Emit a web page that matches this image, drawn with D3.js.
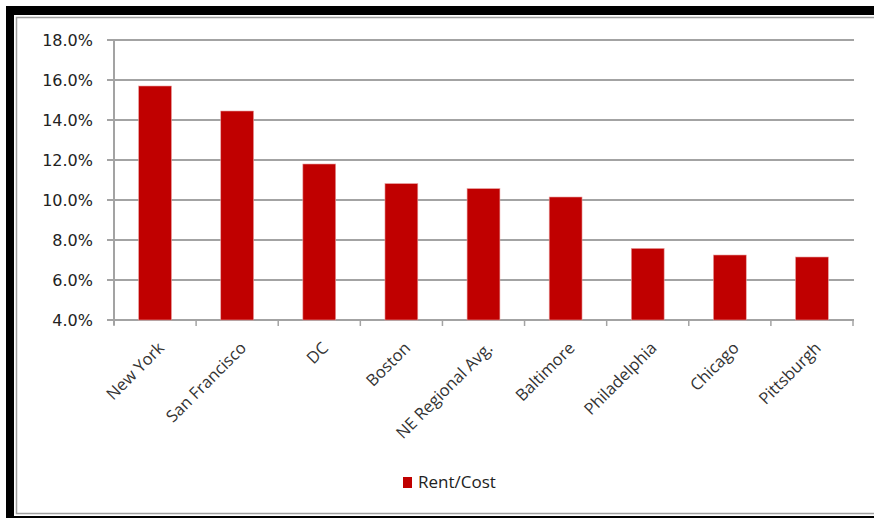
<!DOCTYPE html>
<html><head><meta charset="utf-8">
<script src="https://cdn.jsdelivr.net/npm/d3@7"></script>
<style>body{margin:0;background:#fff}svg{display:block}</style>
</head><body>
<script>
const categories = ["New York","San Francisco","DC","Boston","NE Regional Avg.","Baltimore","Philadelphia","Chicago","Pittsburgh"];
const rentCost = [15.7,14.45,11.8,10.82,10.57,10.15,7.58,7.25,7.15];
const yTicks = [4,6,8,10,12,14,16,18];
const seriesName = "Rent/Cost";

(function(){
const W=874,H=518;
const svg=d3.select("body").append("svg").attr("width",W).attr("height",H);
// frame
svg.append("rect").attr("x",6).attr("y",6).attr("width",W).attr("height",H).attr("fill","#000");
svg.append("rect").attr("x",14).attr("y",15).attr("width",W).attr("height",501).attr("fill","#fff");
svg.append("rect").attr("x",16.5).attr("y",17.5).attr("width",W).attr("height",496).attr("fill","#fff").attr("stroke","#a0a0a0").attr("stroke-width",1.5);

const pl=114,pr=853,pt=40,pb=320;
const x=d3.scaleBand().domain(categories).range([pl,pr]).paddingInner(0.6).paddingOuter(0.3);
const y=d3.scaleLinear().domain([4,18]).range([pb,pt]);

// gridlines
svg.append("g").selectAll("line").data(yTicks).join("line")
 .attr("x1",107).attr("x2",854).attr("y1",d=>y(d)).attr("y2",d=>y(d))
 .attr("stroke","#a3a3a3").attr("stroke-width",2);
// y axis line
svg.append("line").attr("x1",pl).attr("x2",pl).attr("y1",pt).attr("y2",pb+5).attr("stroke","#a3a3a3").attr("stroke-width",2);
// x axis ticks
const step=(pr-pl)/categories.length;
svg.append("g").selectAll("line").data(d3.range(categories.length+1)).join("line")
 .attr("x1",i=>pl+i*step).attr("x2",i=>pl+i*step).attr("y1",pb).attr("y2",pb+6)
 .attr("stroke","#a3a3a3").attr("stroke-width",1.5);

// bars
svg.append("g").selectAll("rect").data(categories).join("rect")
 .attr("x",d=>x(d)).attr("width",x.bandwidth())
 .attr("y",(d,i)=>y(rentCost[i])).attr("height",(d,i)=>y(4)-y(rentCost[i]))
 .attr("fill","#c00000").attr("stroke","#e8a0a0").attr("stroke-width",0.6);

// y labels
svg.append("g").selectAll("text").data(yTicks).join("text")
 .attr("x",93).attr("y",d=>y(d)).attr("dy","0.36em").attr("text-anchor","end")
 .attr("font-family","DejaVu Sans, Verdana, sans-serif").attr("font-size",16).attr("fill","#222")
 .text(d=>d3.format(".1f")(d)+"%");

// x labels
svg.append("g").selectAll("text").data(categories).join("text")
 .attr("transform",d=>`translate(${x(d)+x.bandwidth()/2+6},${pb+25}) rotate(-45)`)
 .attr("text-anchor","end").attr("dy","0.35em")
 .attr("font-family","'Open Sans', sans-serif").attr("font-size",16.5).attr("fill","#333")
 .text(d=>d);

// legend
svg.append("rect").attr("x",403).attr("y",477).attr("width",9).attr("height",11).attr("fill","#c00000");
svg.append("text").attr("x",418).attr("y",482).attr("dy","0.35em")
 .attr("font-family","'Open Sans', sans-serif").attr("font-size",17).attr("fill","#222").text(seriesName);
})();
</script>
</body></html>
